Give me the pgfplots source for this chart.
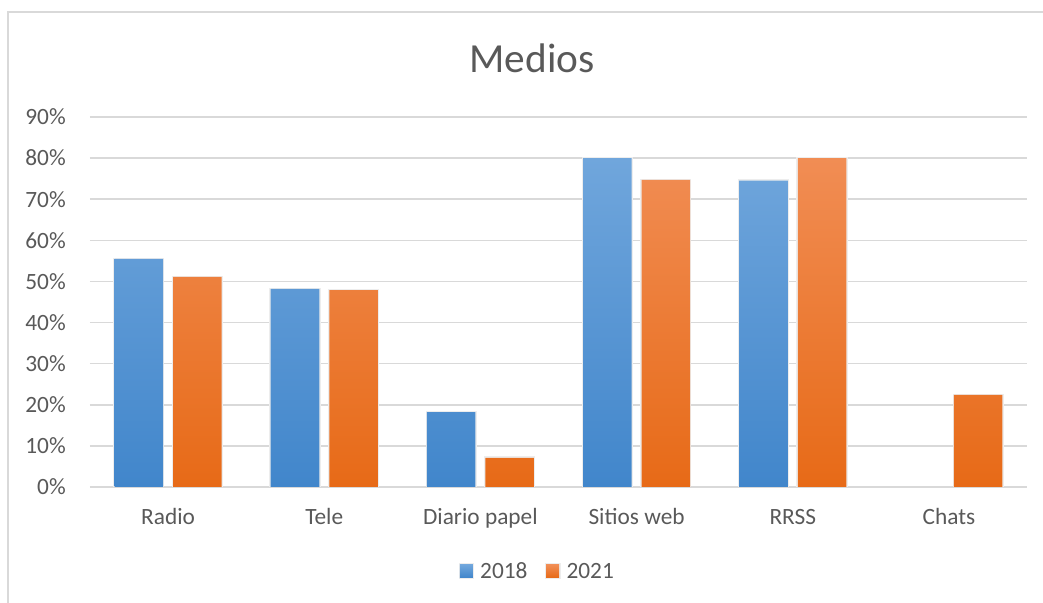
\documentclass[border=0pt]{standalone}
\usepackage{fontspec}
\setmainfont{Carlito}
\usepackage{pgfplots}
\pgfplotsset{compat=1.18}

\definecolor{txt}{HTML}{595959}
\definecolor{gridc}{HTML}{D9D9D9}
\definecolor{blueT}{RGB}{112,166,220}
\definecolor{blueB}{RGB}{65,134,203}
\definecolor{orT}{RGB}{241,141,84}
\definecolor{orB}{RGB}{231,106,23}

\begin{document}
\begin{tikzpicture}
    \useasboundingbox (0,0) rectangle (782.25pt,452.25pt);
    % outer chart frame (runs off the right and bottom edges)
    \draw[gridc, line width=1.1pt] (6pt,-20pt) -- (6pt,443.25pt) -- (800pt,443.25pt);
    \node[anchor=base, text=txt, font=\fontsize{31}{36}\selectfont, inner sep=0pt] at (399pt,397.5pt) {Medios};

    \begin{axis}[
            at={(67.5pt,87pt)}, anchor=south west,
            scale only axis,
            width=702.75pt, height=277.5pt,
            ybar=7.5pt, bar width=36.4pt,
            %
            xmin=-0.5, xmax=5.5,
            ymin=0, ymax=90,
            %
            xtick={0,...,5},
            xticklabels={Radio,Tele,Diario papel,Sitios web,RRSS,Chats},
            ytick={0,10,...,90},
            yticklabel={\pgfmathprintnumber{\tick}\%},
            /pgf/number format/assume math mode=true,
            %
            axis x line=bottom, axis y line=left,
            axis line style={draw=none},
            major tick length=0pt, tick align=inside,
            ymajorgrids, major grid style={gridc, line width=1.1pt},
            tick label style={font=\fontsize{17.5}{21}\selectfont, text=txt},
            yticklabel style={anchor=east, inner sep=0pt, xshift=-18pt},
            xticklabel style={anchor=base, inner sep=0pt, yshift=-28.5pt},
            %
            legend style={
                at={(rel axis cs:0.4776,-0.229)}, anchor=center,
                draw=none, fill=none,
                legend columns=-1,
                font=\fontsize{17.5}{21}\selectfont, text=txt,
                /tikz/every odd column/.append style={column sep=2.5pt},
                /tikz/every even column/.append style={column sep=11pt},
            },
            legend image code/.code={\path[#1, draw=none] (0pt,-4.5pt) rectangle (9.75pt,5.25pt);},
            bar halo/.style={preaction={draw=black!7, line width=2pt}},
        ]

        \addplot[draw=none, bar halo, top color=blueT, bottom color=blueB] coordinates {
            (0, 55.5)
            (1, 48.2)
            (2, 18.2)
            (3, 80.0)
            (4, 74.5)
        };
        \addplot[draw=none, bar halo, top color=orT, bottom color=orB] coordinates {
            (0, 51.1)
            (1, 47.9)
            (2, 7.1)
            (3, 74.7)
            (4, 80.0)
            (5, 22.4)
        };
        \legend{2018,2021}
    \end{axis}
\end{tikzpicture}
\end{document}
